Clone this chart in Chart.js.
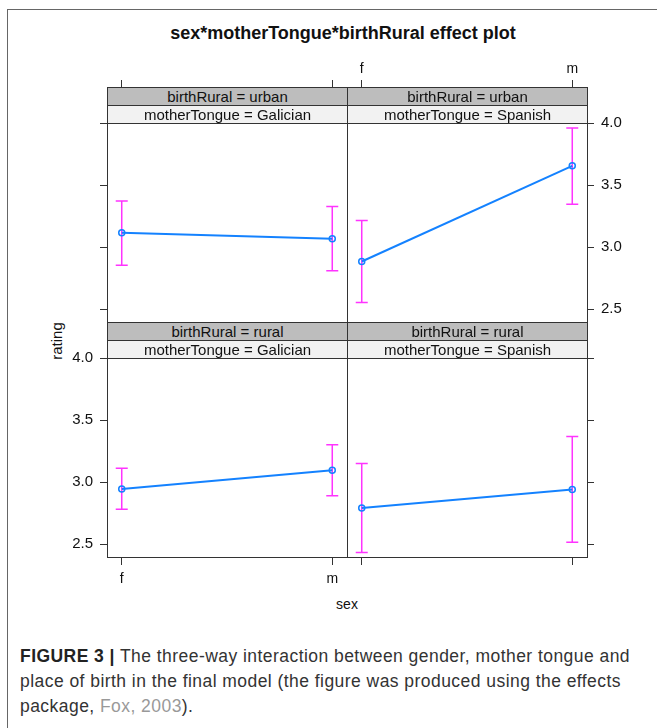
<!DOCTYPE html>
<html>
<head>
<meta charset="utf-8">
<script src="https://cdn.jsdelivr.net/npm/chart.js@4.4.0/dist/chart.umd.min.js"></script>
<style>
	body { margin: 0; background: #fff; width: 657px; height: 728px; overflow: hidden; position: relative; font-family: 'Liberation Sans', Arial, sans-serif; color: #111; }
	.frame { position: absolute; left: 7px; top: 9px; width: 700px; height: 760px; border: 1.5px solid #666; }
	.title { position: absolute; left: 0; width: 686px; top: 23px; text-align: center; font-weight: bold; font-size: 18px; }
	canvas { position: absolute; z-index: 1; }
	.strip { position: absolute; z-index: 2; box-sizing: border-box; width: 241px; height: 19px; border: 1px solid #333; font-size: 15px; line-height: 17px; text-align: center; }
	.dark { background: #bdbdbd; }
	.light { background: #f2f2f2; }
	.lab { position: absolute; font-size: 15px; white-space: nowrap; }
	.caption { position: absolute; left: 20px; top: 644px; font-size: 17.5px; letter-spacing: 0.45px; line-height: 25px; color: #333; white-space: nowrap; }
	.caption b { color: #222; }
	.cite { color: #999; }
</style>
</head>
<body>
<div class="frame"></div>
<div class="title">sex*motherTongue*birthRural effect plot</div>
<div id="plots"></div>
<div class="lab" style="left:56px; top:341px; transform: translate(-50%, -50%) rotate(-90deg);">rating</div>
<div class="lab" style="left:347px; top:604px; transform: translate(-50%, -50%); font-size:14px;">sex</div>
<div class="caption"><b>FIGURE 3 |</b> The three-way interaction between gender, mother tongue and<br>place of birth in the final model (the figure was produced using the effects<br>package, <span class="cite">Fox, 2003</span>).</div>

<script>
// data
const sexLevels = ['f', 'm'];
const sexCodes = [1, 2];
const ratingTicks = [2.5, 3.0, 3.5, 4.0];

const urbanGalicianFit = [3.116, 3.068];
const urbanGalicianLower = [2.854, 2.811];
const urbanGalicianUpper = [3.373, 3.327];

const urbanSpanishFit = [2.885, 3.655];
const urbanSpanishLower = [2.555, 3.345];
const urbanSpanishUpper = [3.215, 3.96];

const ruralGalicianFit = [2.946, 3.097];
const ruralGalicianLower = [2.782, 2.892];
const ruralGalicianUpper = [3.113, 3.301];

const ruralSpanishFit = [2.793, 2.941];
const ruralSpanishLower = [2.435, 2.516];
const ruralSpanishUpper = [3.15, 3.368];

const X_MIN = 0.93, X_MAX = 2.07;
const Y_MIN = 2.398, Y_MAX = 4.0;
const MT = 80, MB = 50, ML = 50, MR = 50; // fixed axis boxes round each panel
const PW = 240, PH = 199;

const LINE_BLUE = '#1482ff';
const BAR_PINK = '#ff33ff';

// panels, lattice order
const panels = [
	{ rural: 'urban', tongue: 'Galician', left: 107, top: 123, fit: urbanGalicianFit, lower: urbanGalicianLower, upper: urbanGalicianUpper,
		sides: { top: 'ticks', left: 'ticks', right: 'none', bottom: 'none' } },
	{ rural: 'urban', tongue: 'Spanish', left: 347, top: 123, fit: urbanSpanishFit, lower: urbanSpanishLower, upper: urbanSpanishUpper,
		sides: { top: 'labels', left: 'none', right: 'labels', bottom: 'none' } },
	{ rural: 'rural', tongue: 'Galician', left: 107, top: 358, fit: ruralGalicianFit, lower: ruralGalicianLower, upper: ruralGalicianUpper,
		sides: { top: 'none', left: 'labels', right: 'none', bottom: 'labels' } },
	{ rural: 'rural', tongue: 'Spanish', left: 347, top: 358, fit: ruralSpanishFit, lower: ruralSpanishLower, upper: ruralSpanishUpper,
		sides: { top: 'none', left: 'none', right: 'ticks', bottom: 'ticks' } },
];

// error bars drawn under the line, through the chart scales
const errorBars = {
	id: 'errorBars',
	beforeDatasetsDraw(chart, args, opts) {
		const { ctx } = chart;
		const x = chart.scales.x;
		const y = chart.scales.y;
		ctx.save();
		ctx.strokeStyle = BAR_PINK;
		ctx.lineWidth = 1.5;
		sexCodes.forEach((c, i) => {
			const px = x.getPixelForValue(c);
			const lo = y.getPixelForValue(opts.lower[i]);
			const hi = y.getPixelForValue(opts.upper[i]);
			ctx.beginPath();
			ctx.moveTo(px, lo);
			ctx.lineTo(px, hi);
			ctx.moveTo(px - 6, lo);
			ctx.lineTo(px + 6, lo);
			ctx.moveTo(px - 6, hi);
			ctx.lineTo(px + 6, hi);
			ctx.stroke();
		});
		ctx.restore();
	},
};

function axisCfg(pos, mode, stripOnTop) {
	const isX = pos === 'top' || pos === 'bottom';
	let tickLength = 7;
	if (pos === 'top' && stripOnTop) tickLength = 43; // strips cover the inner part
	if (pos === 'bottom') tickLength = 8;
	const padding = { top: 2, bottom: 6, left: 7, right: 7 }[pos];
	const size = { top: MT, bottom: MB, left: ML, right: MR }[pos];
	return {
		type: 'linear',
		position: pos,
		min: isX ? X_MIN : Y_MIN,
		max: isX ? X_MAX : Y_MAX,
		border: { display: true, color: '#333', width: 1 },
		grid: {
			display: mode !== 'none',
			drawOnChartArea: false,
			drawTicks: true,
			color: '#333',
			lineWidth: 1,
			tickLength: tickLength,
		},
		ticks: {
			display: mode === 'labels',
			padding: padding,
			color: '#111',
			maxRotation: 0,
			font: { family: "'Liberation Sans', Arial, sans-serif", size: isX ? 14 : 15 },
			callback: (v) => (isX ? sexLevels[v - 1] : Number(v).toFixed(1)),
		},
		afterBuildTicks: (s) => {
			s.ticks = (isX ? sexCodes : ratingTicks).map((v) => ({ value: v }));
		},
		afterFit: (s) => {
			if (isX) s.height = size;
			else s.width = size;
		},
	};
}

const holder = document.getElementById('plots');

panels.forEach((p) => {
	const cv = document.createElement('canvas');
	cv.width = PW + ML + MR;
	cv.height = PH + MT + MB;
	cv.style.left = p.left - ML + 'px';
	cv.style.top = p.top - MT + 'px';
	cv.style.width = cv.width + 'px';
	cv.style.height = cv.height + 'px';
	holder.appendChild(cv);

	// strips
	const st = p.top - 36;
	holder.insertAdjacentHTML(
		'beforeend',
		`<div class="strip dark" style="left:${p.left}px;top:${st}px">birthRural = ${p.rural}</div>` +
			`<div class="strip light" style="left:${p.left}px;top:${st + 18}px">motherTongue = ${p.tongue}</div>`
	);

	new Chart(cv, {
		type: 'line',
		data: {
			datasets: [
				{
					data: sexCodes.map((c, i) => ({ x: c, y: p.fit[i] })),
					xAxisID: 'x',
					yAxisID: 'y',
					borderColor: LINE_BLUE,
					borderWidth: 2,
					pointRadius: 3,
					pointBorderWidth: 1.5,
					pointBorderColor: LINE_BLUE,
					pointBackgroundColor: 'rgba(255,255,255,0)',
					tension: 0,
				},
			],
		},
		options: {
			responsive: false,
			animation: false,
			layout: { padding: 0 },
			plugins: {
				legend: { display: false },
				tooltip: { enabled: false },
				errorBars: { lower: p.lower, upper: p.upper },
			},
			scales: {
				x: axisCfg('bottom', p.sides.bottom, false),
				xTop: axisCfg('top', p.sides.top, true),
				y: axisCfg('left', p.sides.left, false),
				yRight: axisCfg('right', p.sides.right, false),
			},
		},
		plugins: [errorBars],
	});
});
</script>
</body>
</html>
